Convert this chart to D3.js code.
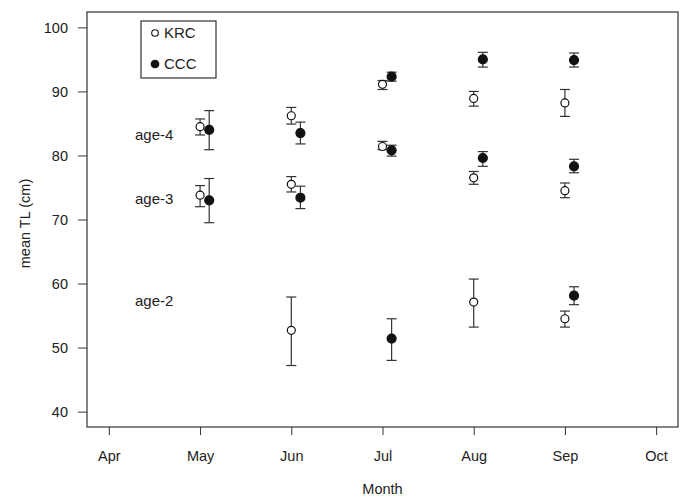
<!DOCTYPE html>
<html>
<head>
<meta charset="utf-8">
<script src="https://cdn.jsdelivr.net/npm/d3@7"></script>
<style>
  body { margin: 0; background: #fff; }
  svg { font-family: "Liberation Sans", Arial, sans-serif; }
  .axis text { font-size: 14.5px; fill: #222; }
  .axis path, .axis line { stroke: #333; }
</style>
</head>
<body>
<div id="chart"></div>
<script>
// month tick labels (Apr = 4 ... Oct = 10)
var monthNums = [4, 5, 6, 7, 8, 9, 10];
var monthLabels = ['Apr', 'May', 'Jun', 'Jul', 'Aug', 'Sep', 'Oct'];
var yTicks = [40, 50, 60, 70, 80, 90, 100];

// each row: [month, mean, lower, upper]
var krcAge4 = [[5, 84.5, 83.2, 85.7], [6, 86.2, 84.9, 87.5], [7, 91.1, 90.3, 91.7], [8, 88.9, 87.7, 90.0], [9, 88.2, 86.1, 90.3]];
var cccAge4 = [[5, 84.0, 80.9, 87.0], [6, 83.5, 81.8, 85.2], [7, 92.3, 91.6, 93.0], [8, 95.0, 93.8, 96.1], [9, 94.9, 93.8, 96.0]];
var krcAge3 = [[5, 73.8, 72.0, 75.3], [6, 75.5, 74.3, 76.7], [7, 81.4, 80.9, 82.2], [8, 76.5, 75.5, 77.5], [9, 74.5, 73.4, 75.7]];
var cccAge3 = [[5, 73.0, 69.5, 76.4], [6, 73.4, 71.7, 75.2], [7, 80.8, 79.9, 81.6], [8, 79.6, 78.3, 80.6], [9, 78.3, 77.3, 79.4]];
var krcAge2 = [[6, 52.7, 47.2, 57.9], [8, 57.1, 53.2, 60.7], [9, 54.5, 53.2, 55.7]];
var cccAge2 = [[7, 51.4, 48.0, 54.5], [9, 58.1, 56.7, 59.5]];

var ageLabels = ['age-4', 'age-3', 'age-2'];
var ageLabelValues = [83.3, 73.3, 57.3];
var seriesNames = ['KRC', 'CCC'];

var width = 681, height = 498;
var margin = {top: 12, right: 3, bottom: 71, left: 87};
var w = width - margin.left - margin.right,
    h = height - margin.top - margin.bottom;

var svg = d3.select('#chart').append('svg')
    .attr('width', width)
    .attr('height', height);

var g = svg.append('g')
    .attr('transform', 'translate(' + margin.left + ',' + margin.top + ')');

// R style 4% padding around xlim / ylim
var x = d3.scaleLinear().domain([3.76, 10.24]).range([0, w]);
var y = d3.scaleLinear().domain([37.6, 102.4]).range([h, 0]);

var yAxis = d3.axisLeft(y).tickValues(yTicks).tickSize(9).tickPadding(10);
var xAxis = d3.axisBottom(x).tickValues(monthNums).tickSize(8).tickPadding(16)
    .tickFormat(function(d, i) { return monthLabels[i]; });

g.append('g').attr('class', 'y axis').call(yAxis)
    .call(function(s) { s.select('.domain').remove(); });
g.append('g').attr('class', 'x axis')
    .attr('transform', 'translate(0,' + h + ')')
    .call(xAxis)
    .call(function(s) { s.select('.domain').remove(); });

// box around plot
g.append('rect')
    .attr('x', 0).attr('y', 0)
    .attr('width', w).attr('height', h)
    .attr('fill', 'none')
    .attr('stroke', '#333')
    .attr('stroke-width', 1.2);

// axis titles
svg.append('text')
    .attr('transform', 'translate(30,' + (margin.top + h / 2 + 4) + ') rotate(-90)')
    .attr('text-anchor', 'middle')
    .style('font-size', '14.5px')
    .attr('fill', '#222')
    .text('mean TL (cm)');

svg.append('text')
    .attr('x', margin.left + w / 2)
    .attr('y', 489)
    .attr('dy', '0.35em')
    .attr('text-anchor', 'middle')
    .style('font-size', '14.5px')
    .attr('fill', '#222')
    .text('Month');

// age labels
g.selectAll('text.age').data(ageLabels)
    .enter().append('text')
    .attr('class', 'age')
    .attr('x', 48)
    .attr('y', function(d, i) { return y(ageLabelValues[i]); })
    .attr('dy', '0.35em')
    .style('font-size', '15px')
    .attr('fill', '#222')
    .text(function(d) { return d; });

var capHalf = 5;
var ccOffset = 0.1;

function drawSeries(data, filled) {
    var off = filled ? ccOffset : 0;
    var grp = g.append('g');
    var pts = grp.selectAll('g.pt').data(data).enter().append('g').attr('class', 'pt');
    pts.append('line')
        .attr('x1', function(d) { return x(d[0] + off); })
        .attr('x2', function(d) { return x(d[0] + off); })
        .attr('y1', function(d) { return y(d[2]); })
        .attr('y2', function(d) { return y(d[3]); })
        .attr('stroke', '#333').attr('stroke-width', 1.2);
    [2, 3].forEach(function(k) {
        pts.append('line')
            .attr('x1', function(d) { return x(d[0] + off) - capHalf; })
            .attr('x2', function(d) { return x(d[0] + off) + capHalf; })
            .attr('y1', function(d) { return y(d[k]); })
            .attr('y2', function(d) { return y(d[k]); })
            .attr('stroke', '#333').attr('stroke-width', 1.2);
    });
    pts.append('circle')
        .attr('cx', function(d) { return x(d[0] + off); })
        .attr('cy', function(d) { return y(d[1]); })
        .attr('r', filled ? 4.5 : 4.0)
        .attr('fill', filled ? '#111' : '#fff')
        .attr('stroke', '#111')
        .attr('stroke-width', 1.2);
}

[krcAge4, krcAge3, krcAge2].forEach(function(d) { drawSeries(d, false); });
[cccAge4, cccAge3, cccAge2].forEach(function(d) { drawSeries(d, true); });

// legend
var legend = svg.append('g').attr('transform', 'translate(141,21)');
legend.append('rect')
    .attr('width', 75).attr('height', 57)
    .attr('fill', '#fff').attr('stroke', '#333').attr('stroke-width', 1.2);
seriesNames.forEach(function(name, i) {
    legend.append('circle')
        .attr('cx', 14).attr('cy', 12 + i * 31)
        .attr('r', i === 0 ? 3.3 : 3.8)
        .attr('fill', i === 0 ? '#fff' : '#111')
        .attr('stroke', '#111').attr('stroke-width', 1.1);
    legend.append('text')
        .attr('x', 23).attr('y', 12 + i * 31)
        .attr('dy', '0.35em')
        .style('font-size', '15px')
        .attr('fill', '#222')
        .text(name);
});
</script>
</body>
</html>
